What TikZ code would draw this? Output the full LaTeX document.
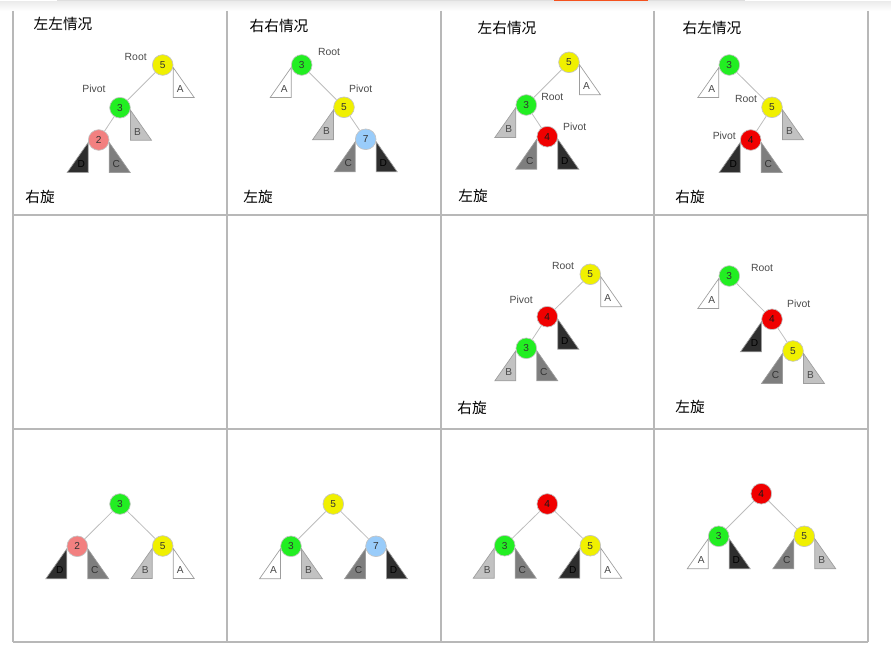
\documentclass[tikz,border=0pt]{standalone}
\usepackage{fontspec}
\setmainfont{Liberation Sans}
\newfontfamily\cjk{Noto Sans CJK SC}
\usetikzlibrary{calc,positioning}
\definecolor{avlYellow}{HTML}{F0F000}
\definecolor{avlGreen}{HTML}{22EE22}
\definecolor{avlPink}{HTML}{F28080}
\definecolor{avlBlue}{HTML}{99CCFA}
\definecolor{avlRed}{HTML}{F00000}
\definecolor{avlRing}{HTML}{C4C4C4}
\definecolor{avlEdge}{HTML}{BDBDBD}
\definecolor{avlGrid}{HTML}{B8B8B8}
\definecolor{avlText}{HTML}{4A4A4A}
\definecolor{uiOrange}{HTML}{F4511E}
\definecolor{treeA}{HTML}{FFFFFF}
\definecolor{treeB}{HTML}{C2C2C2}
\definecolor{treeC}{HTML}{7E7E7E}
\definecolor{treeD}{HTML}{2E2E2E}
\colorlet{treeAink}{avlText}
\colorlet{treeBink}{avlText}
\colorlet{treeCink}{black!80}
\colorlet{treeDink}{black}
\tikzset{
  avl-key/.style={circle, draw=avlRing, line width=0.5pt, minimum size=15.5pt,
    inner sep=0pt, font=\fontsize{7.6}{8}\selectfont, text=black!80},
  avl-yellow/.style={avl-key, fill=avlYellow},
  avl-green/.style={avl-key, fill=avlGreen},
  avl-pink/.style={avl-key, fill=avlPink},
  avl-blue/.style={avl-key, fill=avlBlue},
  avl-red/.style={avl-key, fill=avlRed, text=black!90},
  avl-edge/.style={draw=avlEdge, line width=0.6pt},
  avl-sub/.style={draw=avlRing!80!black, line width=0.5pt},
  avl-letter/.style={font=\fontsize{7.6}{8}\selectfont, inner sep=0pt},
  avl-role/.style={font=\fontsize{7.8}{9}\selectfont, text=avlText, inner sep=0pt},
  avl-title/.style={font=\cjk\fontsize{11}{13}\selectfont, inner sep=0pt},
  avl-grid/.style={draw=avlGrid, line width=0.9pt}
}
% subtree triangle hanging right / left of a key node
\newcommand{\subR}[2]{%
  \draw[avl-sub, fill=tree#2] ($(#1)+(10.5,2.5)$) -- ++(0,30) -- ++(21,0) -- cycle;
  \node[avl-letter, text=tree#2ink] (#1-#2) at ($(#1)+(17.5,24)$) {#2};}
\newcommand{\subL}[2]{%
  \draw[avl-sub, fill=tree#2] ($(#1)+(-10.5,2.5)$) -- ++(0,30) -- ++(-21,0) -- cycle;
  \node[avl-letter, text=tree#2ink] (#1-#2) at ($(#1)+(-17.5,24)$) {#2};}

\begin{document}
\begin{tikzpicture}[x=0.75pt, y=-0.75pt]
\useasboundingbox (0,0) rectangle (891,645);
% page strip on top
\fill[avlGrid!45] (57,0) rectangle (745,1.5);
\fill[uiOrange] (554,0) rectangle (648,2.2);
\shade[top color=black!7, bottom color=white] (0,2) rectangle (891,11);
% grid
\foreach \gx in {13,227,441,654,868}
  \draw[avl-grid] (\gx,11) -- (\gx,642);
\foreach \gy in {215,429,642}
  \draw[avl-grid] (13,\gy) -- (868,\gy);

% row 1: left-left
\node[avl-title] (a-title) at (63,24) {左左情况};
\node[avl-yellow] (a5) at (162.7,65) {5};
\node[avl-green] (a3) at (120,107.7) {3};
\node[avl-pink] (a2) at (98.7,140) {2};
\node[avl-role] (a-root) at (135.7,57) {Root};
\node[avl-role] (a-pivot) at (94,89) {Pivot};
\node[avl-title] (a-turn) at (40,197) {右旋};
\draw[avl-edge] (a5) -- (a3);
\draw[avl-edge] (a3) -- (a2);
\subR{a5}{A} \subR{a3}{B} \subL{a2}{D} \subR{a2}{C}

% row 1: right-right
\node[avl-title] (b-title) at (279,26) {右右情况};
\node[avl-green] (b3) at (301.7,65) {3};
\node[avl-yellow] (b5) at (344,107.3) {5};
\node[avl-blue] (b7) at (365.7,139.3) {7};
\node[avl-role] (b-root) at (329,52) {Root};
\node[avl-role] (b-pivot) at (360.7,89) {Pivot};
\node[avl-title] (b-turn) at (258,197) {左旋};
\draw[avl-edge] (b3) -- (b5);
\draw[avl-edge] (b5) -- (b7);
\subL{b3}{A} \subL{b5}{B} \subL{b7}{C} \subR{b7}{D}

% row 1: left-right
\node[avl-title] (c-title) at (507,28) {左右情况};
\node[avl-yellow] (c5) at (569,62.3) {5};
\node[avl-green] (c3) at (526.3,105) {3};
\node[avl-red] (c4) at (547.3,136.7) {4};
\node[avl-role] (c-root) at (552.3,97.3) {Root};
\node[avl-role] (c-pivot) at (574.7,126.7) {Pivot};
\node[avl-title] (c-turn) at (473,196) {左旋};
\draw[avl-edge] (c5) -- (c3);
\draw[avl-edge] (c3) -- (c4);
\subR{c5}{A} \subL{c3}{B} \subL{c4}{C} \subR{c4}{D}

% row 1: right-left
\node[avl-title] (d-title) at (712,28) {右左情况};
\node[avl-green] (d3) at (729.3,65) {3};
\node[avl-yellow] (d5) at (772,107.3) {5};
\node[avl-red] (d4) at (750.7,140) {4};
\node[avl-role] (d-root) at (746,99.3) {Root};
\node[avl-role] (d-pivot) at (724.3,136) {Pivot};
\node[avl-title] (d-turn) at (690,197) {右旋};
\draw[avl-edge] (d3) -- (d5);
\draw[avl-edge] (d5) -- (d4);
\subL{d3}{A} \subR{d5}{B} \subL{d4}{D} \subR{d4}{C}

% row 2: after first turn
\node[avl-yellow] (e5) at (590.3,274.3) {5};
\node[avl-red] (e4) at (547.3,316.7) {4};
\node[avl-green] (e3) at (526.3,348.3) {3};
\node[avl-role] (e-root) at (563,266) {Root};
\node[avl-role] (e-pivot) at (521.3,300) {Pivot};
\node[avl-title] (e-turn) at (472,408) {右旋};
\draw[avl-edge] (e5) -- (e4);
\draw[avl-edge] (e4) -- (e3);
\subR{e5}{A} \subR{e4}{D} \subL{e3}{B} \subR{e3}{C}

\node[avl-green] (f3) at (729.3,276) {3};
\node[avl-red] (f4) at (772,319.3) {4};
\node[avl-yellow] (f5) at (793,351) {5};
\node[avl-role] (f-root) at (762,267.7) {Root};
\node[avl-role] (f-pivot) at (798.7,303.3) {Pivot};
\node[avl-title] (f-turn) at (690,407) {左旋};
\draw[avl-edge] (f3) -- (f4);
\draw[avl-edge] (f4) -- (f5);
\subL{f3}{A} \subL{f4}{D} \subL{f5}{C} \subR{f5}{B}

% row 3: balanced results
\node[avl-green] (g3) at (120,504) {3};
\node[avl-pink] (g2) at (77.3,546.3) {2};
\node[avl-yellow] (g5) at (162.7,546) {5};
\draw[avl-edge] (g3) -- (g2);
\draw[avl-edge] (g3) -- (g5);
\subL{g2}{D} \subR{g2}{C} \subL{g5}{B} \subR{g5}{A}

\node[avl-yellow] (h5) at (333.3,504) {5};
\node[avl-green] (h3) at (291,546.3) {3};
\node[avl-blue] (h7) at (376,546.3) {7};
\draw[avl-edge] (h5) -- (h3);
\draw[avl-edge] (h5) -- (h7);
\subL{h3}{A} \subR{h3}{B} \subL{h7}{C} \subR{h7}{D}

\node[avl-red] (i4) at (547.3,504) {4};
\node[avl-green] (i3) at (504.7,545.7) {3};
\node[avl-yellow] (i5) at (590.3,545.7) {5};
\draw[avl-edge] (i4) -- (i3);
\draw[avl-edge] (i4) -- (i5);
\subL{i3}{B} \subR{i3}{C} \subL{i5}{D} \subR{i5}{A}

\node[avl-red] (j4) at (761.3,493.7) {4};
\node[avl-green] (j3) at (718.7,536.3) {3};
\node[avl-yellow] (j5) at (804.3,536.3) {5};
\draw[avl-edge] (j4) -- (j3);
\draw[avl-edge] (j4) -- (j5);
\subL{j3}{A} \subR{j3}{D} \subL{j5}{C} \subR{j5}{B}
\end{tikzpicture}
\end{document}
